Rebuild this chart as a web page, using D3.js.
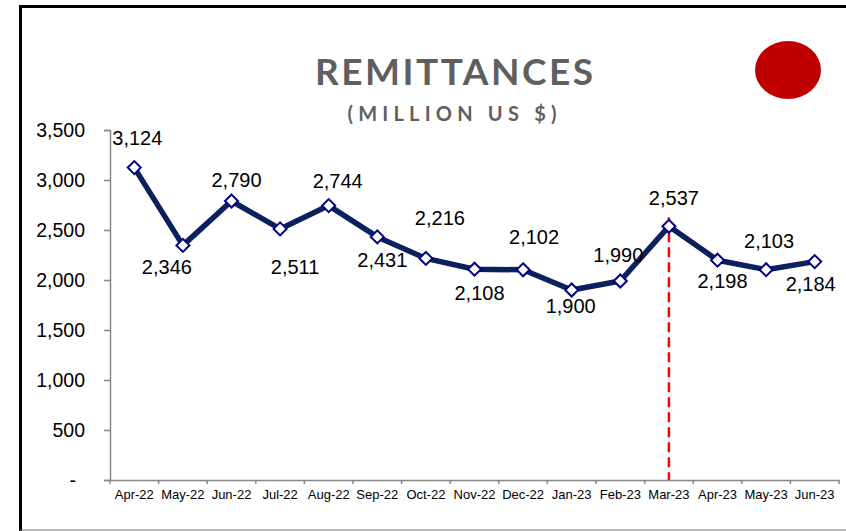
<!DOCTYPE html>
<html>
<head>
<meta charset="utf-8">
<script src="https://cdn.jsdelivr.net/npm/d3@7"></script>
<style>
  body { margin: 0; background: #fff; }
  svg { display: block; }
</style>
</head>
<body>
<div id="chart"></div>
<script>
// data
var months = ['Apr-22', 'May-22', 'Jun-22', 'Jul-22', 'Aug-22', 'Sep-22', 'Oct-22', 'Nov-22',
    'Dec-22', 'Jan-23', 'Feb-23', 'Mar-23', 'Apr-23', 'May-23', 'Jun-23'];
var remittances = [3124, 2346, 2790, 2511, 2744, 2431, 2216, 2108, 2102, 1900, 1990, 2537, 2198, 2103, 2184];
var yTicks = [0, 500, 1000, 1500, 2000, 2500, 3000, 3500];
var markerMonth = 'Mar-23';

// where each value label sits relative to its point (dx, dy)
var labelShift = [[3, -30], [-16, 21], [5, -21], [15, 38], [9, -25], [5, 23], [14, -41], [5, 24],
    [11, -33], [-1, 16], [-2, -26], [5, -29], [5, 21], [3, -29], [-4, 22]];

var width = 846, height = 531;
var navy = '#0a215e';

var vis = d3.select('#chart').append('svg')
    .attr('width', width)
    .attr('height', height);

// frame
vis.append('line').attr('x1', 20.5).attr('x2', 20.5).attr('y1', 5).attr('y2', height)
    .attr('stroke', '#000').attr('stroke-width', 3);
vis.append('line').attr('x1', 19).attr('x2', width).attr('y1', 6.5).attr('y2', 6.5)
    .attr('stroke', '#000').attr('stroke-width', 3);
vis.append('line').attr('x1', 20).attr('x2', width).attr('y1', 530).attr('y2', 530)
    .attr('stroke', '#777').attr('stroke-width', 1);

// titles
vis.append('text')
    .attr('x', 454).attr('y', 85)
    .attr('text-anchor', 'middle')
    .attr('textLength', 278).attr('lengthAdjust', 'spacing')
    .style('font-family', 'Lato, "Open Sans", sans-serif')
    .style('font-weight', 'bold')
    .style('font-size', '37px')
    .style('fill', '#5f5f5f')
    .text('REMITTANCES');

vis.append('text')
    .attr('x', 452).attr('y', 121)
    .attr('text-anchor', 'middle')
    .attr('textLength', 209).attr('lengthAdjust', 'spacing')
    .style('font-family', 'Lato, "Open Sans", sans-serif')
    .style('font-weight', 'bold')
    .style('font-size', '20px')
    .style('fill', '#5f5f5f')
    .text('(MILLION US $)');

vis.append('ellipse')
    .attr('cx', 788).attr('cy', 70).attr('rx', 33).attr('ry', 29)
    .attr('fill', '#c00000');

// scales
var x = d3.scaleBand().domain(months).range([110, 839]);
var y = d3.scaleLinear().domain([0, 3500]).range([480, 130]);
var cx = function(m) { return x(m) + x.bandwidth() / 2; };

var fmt = d3.format(',');
var font = '"Liberation Sans", Arial, sans-serif';

// y axis
var yAxis = vis.append('g')
    .attr('transform', 'translate(110,0)')
    .call(d3.axisLeft(y).tickValues(yTicks).tickSize(6).tickPadding(19)
        .tickFormat(function(d) { return d === 0 ? '-' : fmt(d); }));
yAxis.selectAll('.domain').attr('stroke', '#878787').attr('stroke-width', 1.5);
yAxis.selectAll('.tick line').attr('stroke', '#878787').attr('stroke-width', 1.5);
yAxis.selectAll('text')
    .style('font-family', font).style('font-size', '19.5px').style('fill', '#000');
yAxis.selectAll('.tick').filter(function(d) { return d === 0; }).select('text')
    .attr('x', -34);

// x axis
var xAxis = vis.append('g')
    .attr('transform', 'translate(0,480)')
    .call(d3.axisBottom(x).tickSize(0).tickSizeOuter(0).tickPadding(10));
xAxis.selectAll('.domain').attr('stroke', '#878787').attr('stroke-width', 1.5);
xAxis.selectAll('text')
    .style('font-family', font).style('font-size', '13px').style('fill', '#000');
// boundary tick marks between categories
xAxis.selectAll('.sep')
    .data(d3.range(months.length + 1))
    .enter().append('line')
    .attr('x1', function(i) { return 110 + i * x.step(); })
    .attr('x2', function(i) { return 110 + i * x.step(); })
    .attr('y1', 0).attr('y2', 4)
    .attr('stroke', '#878787').attr('stroke-width', 1.5);

// red dashed marker
vis.append('line')
    .attr('x1', cx(markerMonth)).attr('x2', cx(markerMonth))
    .attr('y1', y(remittances[months.indexOf(markerMonth)]) - 9).attr('y2', 480)
    .attr('stroke', '#ff0000').attr('stroke-width', 2.5)
    .attr('stroke-dasharray', '10,5');

// line
var pts = months.map(function(m, i) { return [cx(m), y(remittances[i])]; });
vis.append('path')
    .datum(pts)
    .attr('d', d3.line())
    .attr('fill', 'none')
    .attr('stroke', navy)
    .attr('stroke-width', 5.5)
    .attr('stroke-linejoin', 'round');

// diamond markers
vis.selectAll('.pt')
    .data(pts)
    .enter().append('path')
    .attr('class', 'pt')
    .attr('transform', function(d) { return 'translate(' + d[0] + ',' + d[1] + ')'; })
    .attr('d', 'M0,-6.5L6.5,0L0,6.5L-6.5,0Z')
    .attr('fill', '#fff')
    .attr('stroke', '#000080')
    .attr('stroke-width', 2);

// value labels
vis.selectAll('.lbl')
    .data(pts)
    .enter().append('text')
    .attr('class', 'lbl')
    .attr('x', function(d, i) { return d[0] + labelShift[i][0]; })
    .attr('y', function(d, i) { return d[1] + labelShift[i][1]; })
    .attr('dy', '0.36em')
    .attr('text-anchor', 'middle')
    .style('font-family', font)
    .style('font-size', '20px')
    .style('fill', '#000')
    .text(function(d, i) { return fmt(remittances[i]); });
</script>
</body>
</html>
